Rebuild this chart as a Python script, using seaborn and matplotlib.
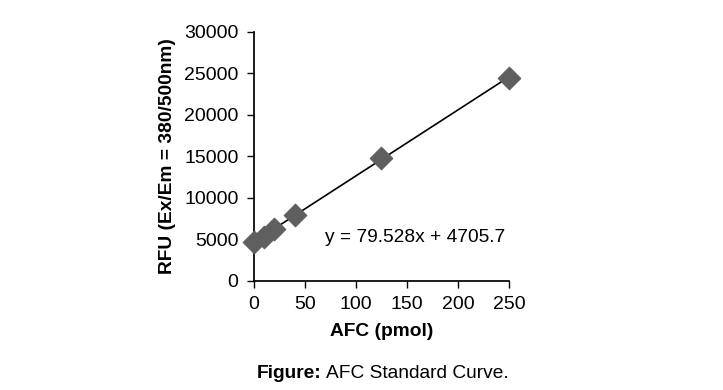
import numpy as np
import pandas as pd
import seaborn as sns
import matplotlib.pyplot as plt

# Standard curve values
afc_pmol = [0, 10, 20, 40, 125, 250]
rfu = [4700, 5300, 6300, 8000, 14800, 24500]
slope = 79.528
intercept = 4705.7

x_ticks = [0, 50, 100, 150, 200, 250]
y_ticks = [0, 5000, 10000, 15000, 20000, 25000, 30000]

df = pd.DataFrame({'afc': afc_pmol, 'rfu': rfu})
fit_x = np.array([min(afc_pmol), max(afc_pmol)])
fit = pd.DataFrame({'afc': fit_x, 'rfu': slope * fit_x + intercept})

sns.set_theme(style="ticks")
plt.rcParams['font.family'] = ['Liberation Sans', 'DejaVu Sans']

fig = plt.figure(figsize=(7.23, 3.9), dpi=100)
ax = fig.add_axes([0.351, 0.2795, 0.353, 0.6385])

sns.lineplot(data=fit, x='afc', y='rfu', ax=ax, color='black', linewidth=1.2)
sns.scatterplot(data=df, x='afc', y='rfu', ax=ax, marker='D', s=130,
                color='#5f5f5f', edgecolor='#5f5f5f', zorder=3, clip_on=False)

ax.set_xlim(0, 250)
ax.set_ylim(0, 30000)
ax.set_xticks(x_ticks)
ax.set_yticks(y_ticks)
ax.tick_params(axis='both', labelsize=14, length=5, width=1, color='black',
               direction='out', labelcolor='black', pad=6)
ax.spines['left'].set_color('black')
ax.spines['bottom'].set_color('black')
sns.despine(ax=ax)

ax.set_xlabel('AFC (pmol)', fontsize=13.8, fontweight='bold', labelpad=7, color='black')
ax.set_ylabel('RFU (Ex/Em = 380/500nm)', fontsize=13.8, fontweight='bold', labelpad=6, color='black')

ax.text(0.28, 0.14, 'y = 79.528x + 4705.7', transform=ax.transAxes, fontsize=13.8,
        ha='left', va='bottom', color='black')

# caption: bold "Figure:" followed by plain text
t1 = fig.text(0.355, 0.03, 'Figure:', fontsize=13.8, fontweight='bold', ha='left', color='black')
fig.canvas.draw()
bb = t1.get_window_extent(renderer=fig.canvas.get_renderer())
x2 = (bb.x1 + 5) / fig.bbox.width
fig.text(x2, 0.03, 'AFC Standard Curve.', fontsize=13.8, ha='left', color='black')

fig.savefig('out.png', dpi=100)
